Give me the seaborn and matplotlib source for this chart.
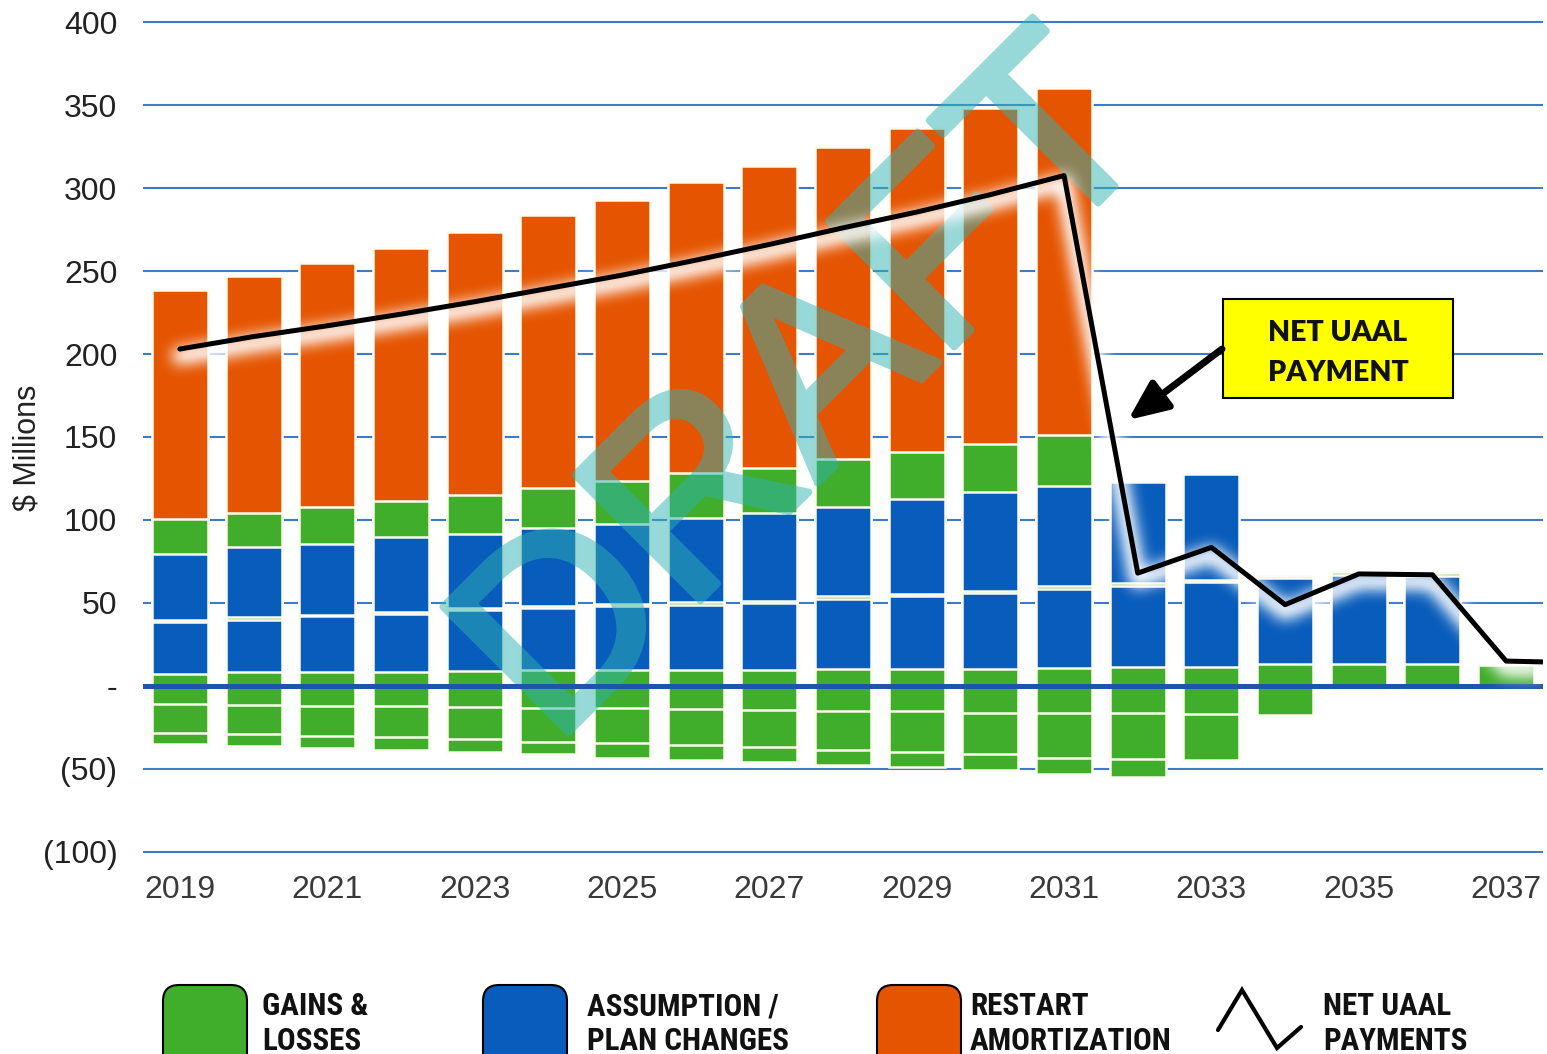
import os
import numpy as np
import pandas as pd
import matplotlib
matplotlib.use("Agg")
import matplotlib.pyplot as plt
import matplotlib.patheffects as pe
from matplotlib import font_manager as fm
from matplotlib.patches import FancyBboxPatch, Rectangle
import seaborn as sns

# ---------------- data ----------------
years = list(range(2019, 2038))
gl_base = [7.5, 8.5, 8.5, 8.5, 9.0, 9.5, 9.5, 9.5, 9.5, 10.0, 10.0, 10.0, 11.0, 11.5, 11.5, 13.0, 13.0, 13.0, 12.5]
ap_lower = [31.0, 31.3, 33.5, 35.0, 36.5, 37.3, 38.5, 39.5, 40.5, 42.5, 44.0, 46.0, 47.5, 49.0, 51.0, 52.0, 54.0, 53.5, 0]
gl_thin = [1.5, 1.5, 0.8, 0.8, 1.5, 1.5, 1.5, 1.5, 1.5, 1.5, 1.5, 1.5, 1.5, 1.5, 1.5, 1.5, 1.5, 1.5, 0]
ap_upper = [39.5, 42.2, 42.7, 45.2, 44.5, 46.7, 48.0, 51.0, 53.0, 54.0, 57.0, 59.5, 60.5, 61.0, 63.5, 0, 0, 0, 0]
gl_mid = [21.0, 21.0, 22.5, 22.0, 23.5, 24.5, 26.0, 27.0, 27.0, 28.5, 28.5, 29.0, 31.0, 0, 0, 0, 0, 0, 0]
restart = [138.0, 142.5, 147.0, 152.5, 158.5, 164.0, 169.5, 175.0, 182.0, 188.5, 195.0, 202.0, 208.5, 0, 0, 0, 0, 0, 0]
gl_neg1 = [-10.8, -11.5, -11.8, -12.2, -12.7, -13.1, -13.5, -14.0, -14.4, -15.0, -15.3, -16.0, -16.5, -16.5, -16.7, -17.7, -2.0, -2.0, 0]
gl_neg2 = [-17.3, -17.3, -18.1, -18.8, -19.2, -20.4, -21.1, -21.6, -22.6, -23.4, -24.3, -25.0, -27.0, -27.4, -27.7, 0, 0, 0, 0]
gl_neg3 = [-6.7, -7.4, -7.3, -7.8, -7.9, -7.3, -8.7, -8.9, -8.9, -9.5, -9.3, -9.5, -9.4, -11.0, 0, 0, 0, 0, 0]

line_years = list(range(2019, 2039))
net_payment = [203, 210.5, 217, 224, 231.5, 239.5, 247.5, 256.5, 266, 276, 285.5, 296, 307.5,
               68, 83.5, 49, 67.5, 67, 15, 14]

y_ticks = [-100, -50, 0, 50, 100, 150, 200, 250, 300, 350, 400]
y_tick_labels = ["(100)", "(50)", "-", "50", "100", "150", "200", "250", "300", "350", "400"]
x_ticks = [2019, 2021, 2023, 2025, 2027, 2029, 2031, 2033, 2035, 2037]

legend_labels = ["GAINS &\nLOSSES", "ASSUMPTION /\nPLAN CHANGES", "RESTART\nAMORTIZATION", "NET UAAL\nPAYMENTS"]

GREEN = "#40ad2b"
BLUE = "#085cbb"
ORANGE = "#e55400"
EDGE = "#fcfcee"
GRID = "#3d7cc4"
WM_COLOR = "#2fb2b2"

# ---------------- style ----------------
sns.set_theme(style="white")
plt.rcParams["font.family"] = ["Liberation Sans", "DejaVu Sans"]

W, H = 1547, 1054
fig = plt.figure(figsize=(W / 100, H / 100), dpi=100)
ax = fig.add_axes([143 / W, 1 - 855.3 / H, 1400 / W, (855.3 - 18.7) / H])

yrs = np.asarray(years)


def draw_layer(tops, heights, color):
    t = np.asarray(tops, float)
    h = np.asarray(heights, float)
    m = h != 0
    df = pd.DataFrame({"year": yrs[m], "value": t[m]})
    sns.barplot(data=df, x="year", y="value", native_scale=True, width=0.76,
                color=color, saturation=1, edgecolor=EDGE, linewidth=1.8,
                errorbar=None, ax=ax, zorder=2)


pos_layers = [(gl_base, GREEN), (ap_lower, BLUE), (gl_thin, GREEN),
              (ap_upper, BLUE), (gl_mid, GREEN), (restart, ORANGE)]
cum = np.zeros(len(years))
tops = []
for hts, col in pos_layers:
    cum = cum + np.asarray(hts, float)
    tops.append((cum.copy(), hts, col))
for t, hts, col in reversed(tops):
    draw_layer(t, hts, col)

neg_layers = [(gl_neg1, GREEN), (gl_neg2, GREEN), (gl_neg3, GREEN)]
cum = np.zeros(len(years))
ntops = []
for hts, col in neg_layers:
    cum = cum + np.asarray(hts, float)
    ntops.append((cum.copy(), hts, col))
for t, hts, col in reversed(ntops):
    draw_layer(t, hts, col)


# ---------- image filters ----------
def _gauss_kernel(sigma):
    r = int(3 * sigma) + 1
    x = np.arange(-r, r + 1)
    k = np.exp(-0.5 * (x / sigma) ** 2)
    return k / k.sum()


class GlowFilter:
    def __init__(self, sigma, strength, dy, color=(1.0, 1.0, 1.0)):
        self.sigma = sigma
        self.strength = strength
        self.dy = dy
        self.color = color

    def __call__(self, im, dpi):
        pad = int(3 * self.sigma) + abs(self.dy) + 4
        a = np.pad(im[..., 3], pad)
        k = _gauss_kernel(self.sigma)
        a = np.apply_along_axis(lambda r: np.convolve(r, k, mode="same"), 0, a)
        a = np.apply_along_axis(lambda r: np.convolve(r, k, mode="same"), 1, a)
        a = np.roll(a, self.dy, axis=0)
        out = np.zeros(a.shape + (4,))
        out[..., 0], out[..., 1], out[..., 2] = self.color
        out[..., 3] = np.clip(a * self.strength, 0, 1)
        return out, -pad, -pad


class AlphaFilter:
    def __init__(self, alpha):
        self.alpha = alpha

    def __call__(self, im, dpi):
        out = im.copy()
        out[..., 3] = out[..., 3] * self.alpha
        return out, 0, 0


# watermark (opaque text thickened, then made translucent as a whole)
wm = ax.text(858 / W, 1 - 443 / H, "DRAFT", transform=fig.transFigure, fontsize=186,
             rotation=45, rotation_mode="anchor", ha="center", va="baseline",
             color=WM_COLOR, zorder=3, clip_on=False, family="Liberation Sans",
             path_effects=[pe.withStroke(linewidth=5, foreground=WM_COLOR)])
wm.set_agg_filter(AlphaFilter(0.5))

# zero line
ax.axhline(0, color="#1d55a8", lw=3.6, zorder=4)

# soft white glow under the net payment line
sns.lineplot(x=line_years, y=net_payment, color="white", linewidth=12, ax=ax, zorder=5,
             solid_capstyle="round")
ax.lines[-1].set_agg_filter(GlowFilter(sigma=7, strength=1.05, dy=7))

# net payment line
sns.lineplot(x=line_years, y=net_payment, color="black", linewidth=3.6, ax=ax,
             zorder=6, solid_capstyle="round")

ax.set_xlim(2018.5, 2037.5)
ax.set_ylim(-102, 402)
ax.set_yticks(y_ticks)
ax.set_yticklabels(y_tick_labels)
ax.set_xticks(x_ticks)
ax.set_xticklabels([str(v) for v in x_ticks])
ax.tick_params(axis="y", length=0, pad=18.5, labelsize=23, labelcolor="#222222")
ax.tick_params(axis="x", length=0, pad=14, labelsize=23, labelcolor="#3a3a3a")
ax.set_xlabel("")
ax.set_ylabel("")
ax.grid(axis="y", color=GRID, lw=1.5)
ax.grid(axis="x", visible=False)
ax.set_axisbelow(True)
for s in ax.spines.values():
    s.set_visible(False)
ax.patch.set_alpha(0)

fig.text(27 / W, 1 - 448 / H, "$ Millions", rotation=90, ha="center", va="center",
         fontsize=22, color="#222222")

# overlay in pixel coordinates for legend / annotation
ov = fig.add_axes([0, 0, 1, 1], zorder=10)
ov.set_xlim(0, W)
ov.set_ylim(H, 0)
ov.axis("off")

# annotation box + arrow
ov.add_patch(Rectangle((1223, 299), 230, 99, facecolor="#ffff00", edgecolor="black", lw=1.5))
ov.text(1338, 341, "NET UAAL", ha="center", va="baseline", fontsize=20.5, fontweight="heavy",
        family=["Lato", "DejaVu Sans"], color="#111111")
ov.text(1338, 381, "PAYMENT", ha="center", va="baseline", fontsize=20.5, fontweight="heavy",
        family=["Lato", "DejaVu Sans"], color="#111111")
ov.annotate("", xy=(1128, 420), xytext=(1222, 349),
            arrowprops=dict(arrowstyle="-|>,head_length=0.8,head_width=0.35",
                            mutation_scale=30, color="black", lw=5,
                            shrinkA=0, shrinkB=0))


# legend font: prefer a narrow / condensed bold face if installed
def pick_narrow_bold():
    files = sorted({f.fname for f in fm.fontManager.ttflist})
    prefs = ["liberationsansnarrow-bold.", "arialnarrow", "notosans-extracondensedbold.",
             "robotocondensed-bold.", "notosans-condensedbold.", "opensans-condensedbold.",
             "opensans_condensed-bold.", "dejavusanscondensed-bold."]
    for p in prefs:
        for fn in files:
            if p in os.path.basename(fn).lower():
                return fn
    for fn in files:
        b = os.path.basename(fn).lower()
        if ("condensed" in b or "narrow" in b) and "bold" in b and "semi" not in b \
                and "italic" not in b and "oblique" not in b:
            return fn
    return None


narrow = pick_narrow_bold()
if narrow:
    lprop = dict(fontproperties=fm.FontProperties(fname=narrow, size=24))
else:
    lprop = dict(family="Liberation Sans", fontweight="bold", fontsize=24)

box_x = [163, 483, 877]
box_cols = [GREEN, BLUE, ORANGE]
text_x = [262, 587, 970, 1323]
target_w = [(110, 108), (188, 203), (120, 195), (129, 142)]
for bx, col in zip(box_x, box_cols):
    ov.add_patch(FancyBboxPatch((bx, 985), 84, 90, boxstyle="round,pad=0,rounding_size=16",
                                facecolor=col, edgecolor="black", lw=1.5, clip_on=True))
ov.plot([1218, 1242, 1277, 1301], [1030, 990, 1048, 1027], color="black", lw=3,
        solid_joinstyle="miter")
leg_texts = []
for tx, lab, tw in zip(text_x, legend_labels, target_w):
    l1, l2 = lab.split("\n")
    t1 = ov.text(tx, 1015, l1, ha="left", va="baseline", color="#111111", **lprop)
    t2 = ov.text(tx, 1050, l2, ha="left", va="baseline", color="#111111", **lprop)
    leg_texts += [(t1, tw[0]), (t2, tw[1])]

fig.canvas.draw()
r = fig.canvas.get_renderer()
cur = sum(t.get_window_extent(r).width for t, _ in leg_texts)
want = sum(w for _, w in leg_texts)
scale = want / cur
for t, _ in leg_texts:
    t.set_fontsize(t.get_fontsize() * scale)

fig.savefig("out.png", dpi=100)
